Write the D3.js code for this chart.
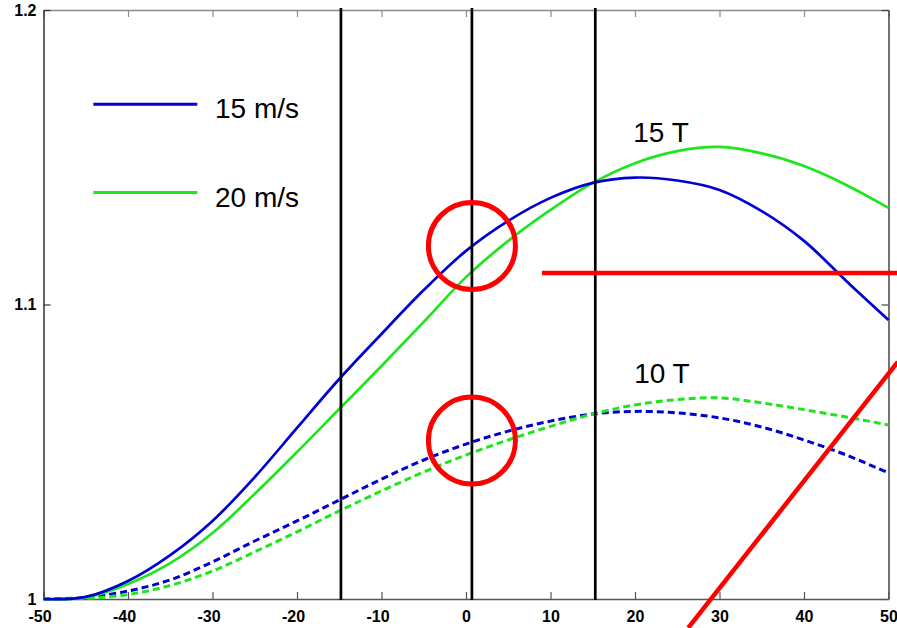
<!DOCTYPE html>
<html>
<head>
<meta charset="utf-8">
<script src="https://cdn.jsdelivr.net/npm/d3@7"></script>
<style>
  html, body { margin: 0; padding: 0; background: #fff; }
  svg { display: block; font-family: "Liberation Sans", Arial, Helvetica, sans-serif; }
</style>
</head>
<body>
<svg id="chart" width="897" height="628"></svg>
<script>
// Position along the track (x) and relative field value (y)
const xSamples = [-50, -45, -40, -35, -30, -25, -20, -15, -10, -5, 0, 5, 10, 15, 20, 25, 30, 35, 40, 45, 50];

// 15 T curves
const v15ms15T = [1.0000, 1.0007, 1.0061, 1.0149, 1.0265, 1.0414, 1.0581, 1.0747, 1.0900, 1.1049, 1.1182, 1.1284, 1.1362, 1.1413, 1.1431, 1.1421, 1.1389, 1.1317, 1.1216, 1.1080, 1.0947];
const v20ms15T = [1.0000, 1.0005, 1.0051, 1.0122, 1.0224, 1.0357, 1.0499, 1.0645, 1.0791, 1.0941, 1.1093, 1.1216, 1.1321, 1.1413, 1.1480, 1.1521, 1.1535, 1.1513, 1.1470, 1.1406, 1.1328];

// 10 T curves
const v15ms10T = [1.0000, 1.0005, 1.0027, 1.0065, 1.0126, 1.0197, 1.0265, 1.0336, 1.0407, 1.0472, 1.0526, 1.0570, 1.0604, 1.0628, 1.0637, 1.0632, 1.0615, 1.0584, 1.0540, 1.0489, 1.0428];
const v20ms10T = [1.0000, 1.0002, 1.0015, 1.0046, 1.0095, 1.0160, 1.0228, 1.0299, 1.0367, 1.0431, 1.0489, 1.0540, 1.0586, 1.0628, 1.0659, 1.0677, 1.0683, 1.0666, 1.0643, 1.0618, 1.0591];

// Axis ticks
const xTicks = [-50, -40, -30, -20, -10, 0, 10, 20, 30, 40, 50];
const xTickLabels = ["-50", "-40", "-30", "-20", "-10", "0", "10", "20", "30", "40", "50"];
const yTicks = [1, 1.1, 1.2];
const yTickLabels = ["1", "1.1", "1.2"];

// Legend and curve-group labels
const legendLabels = ["15 m/s", "20 m/s"];
const groupLabels = [{ text: "15 T", x: 19.8, y: 1.1553 }, { text: "10 T", x: 19.9, y: 1.0733 }];

// Marker lines and highlighted spots
const markerX = [-14.8, 0.7, 15.3];
const highlightSpots = [{ x: 0.7, y: 1.1199 }, { x: 0.7, y: 1.0538 }];
const redSegments = [
  { x1: 9.0, y1: 1.1107, x2: 51.1, y2: 1.1107 },
  { x1: 26.3, y1: 0.9902, x2: 51.1, y2: 1.0805 }
];

const svg = d3.select("#chart");
const plotLeft = 43.5, plotRight = 888.5, plotTop = 10, plotBottom = 599;

const x = d3.scaleLinear().domain([-50, 50]).range([plotLeft, plotRight]);
const y = d3.scaleLinear().domain([1, 1.2]).range([plotBottom, plotTop]);

const BLUE = "#0000d2";
const GREEN = "#1ee61e";
const RED = "#ff0000";

// Axes with inward ticks
const xAxis = d3.axisBottom(x).tickValues(xTicks)
  .tickFormat((d, i) => xTickLabels[i]).tickSizeInner(-7).tickSizeOuter(0).tickPadding(12);
const yAxis = d3.axisLeft(y).tickValues(yTicks)
  .tickFormat((d, i) => yTickLabels[i]).tickSizeInner(-7).tickSizeOuter(0).tickPadding(7);
const xAxisTop = d3.axisTop(x).tickValues(xTicks).tickFormat("").tickSizeInner(-7).tickSizeOuter(0);
const yAxisRight = d3.axisRight(y).tickValues(yTicks).tickFormat("").tickSizeInner(-7).tickSizeOuter(0);

function styleAxis(g, color) {
  g.select(".domain").attr("stroke", color).attr("stroke-width", 1.5);
  g.selectAll(".tick line").attr("stroke", color).attr("stroke-width", 1.2);
  g.selectAll(".tick text").attr("fill", "#000").attr("font-size", 16).attr("font-weight", "bold")
    .attr("font-family", "'Liberation Sans', Arial, sans-serif");
}

svg.append("g").attr("transform", `translate(0,${plotTop})`).call(xAxisTop).call(g => styleAxis(g, "#8a8a8a"));
svg.append("g").attr("transform", `translate(${plotRight},0)`).call(yAxisRight).call(g => styleAxis(g, "#444"));
svg.append("g").attr("transform", `translate(0,${plotBottom})`).call(xAxis).call(g => {
  styleAxis(g, "#555");
  // the minus sign hangs to the left of the centred digits
  g.selectAll(".tick text").attr("dx", d => d < 0 ? -4 : 0);
});
svg.append("g").attr("transform", `translate(${plotLeft},0)`).call(yAxis).call(g => styleAxis(g, "#333"));

// Curves
const line = d3.line()
  .x((d, i) => x(xSamples[i]))
  .y(d => y(d))
  .curve(d3.curveCatmullRom.alpha(0.5));

const curves = [
  { values: v15ms10T, color: BLUE, dashed: true },
  { values: v20ms10T, color: GREEN, dashed: true },
  { values: v20ms15T, color: GREEN, dashed: false },
  { values: v15ms15T, color: BLUE, dashed: false }
];

svg.append("g").selectAll("path").data(curves).join("path")
  .attr("d", d => line(d.values))
  .attr("fill", "none")
  .attr("stroke", d => d.color)
  .attr("stroke-width", d => d.dashed ? 3 : 2.7)
  .attr("stroke-dasharray", d => d.dashed ? "7,4" : null);

// Vertical marker lines
svg.append("g").selectAll("line").data(markerX).join("line")
  .attr("x1", d => x(d)).attr("x2", d => x(d))
  .attr("y1", y(1.2) - 2).attr("y2", y(1) + 1)
  .attr("stroke", "#000").attr("stroke-width", 2.7);

// Legend
const legendY = [1.1680, 1.1380];
const legendColors = [BLUE, GREEN];
const legend = svg.append("g");
legendLabels.forEach((label, i) => {
  const ly = y(legendY[i]);
  legend.append("line")
    .attr("x1", x(-44.1)).attr("x2", x(-31.8))
    .attr("y1", ly).attr("y2", ly)
    .attr("stroke", legendColors[i]).attr("stroke-width", 3);
  legend.append("text")
    .attr("x", x(-29.7)).attr("y", ly + 14)
    .attr("font-size", 28).attr("fill", "#000")
    .text(label);
});

// Curve group labels
svg.append("g").selectAll("text").data(groupLabels).join("text")
  .attr("x", d => x(d.x)).attr("y", d => y(d.y))
  .attr("font-size", 28).attr("fill", "#000")
  .text(d => d.text);

// Red highlights
svg.append("g").selectAll("circle").data(highlightSpots).join("circle")
  .attr("cx", d => x(d.x)).attr("cy", d => y(d.y)).attr("r", 43.5)
  .attr("fill", "none").attr("stroke", RED).attr("stroke-width", 5);

svg.append("g").selectAll("line").data(redSegments).join("line")
  .attr("x1", d => x(d.x1)).attr("y1", d => y(d.y1))
  .attr("x2", d => x(d.x2)).attr("y2", d => y(d.y2))
  .attr("stroke", RED).attr("stroke-width", 4.5);
</script>
</body>
</html>
